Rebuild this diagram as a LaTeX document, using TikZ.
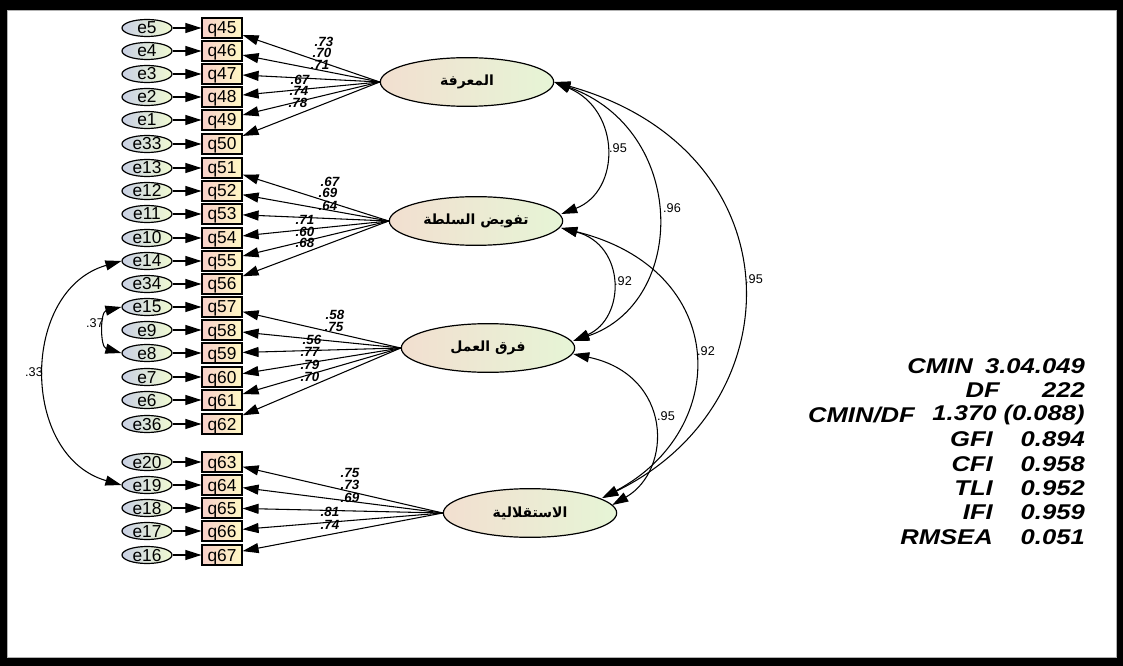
\documentclass[tikz,border=0pt]{standalone}
\usepackage{graphicx}
\usepackage{fontspec}
\setmainfont{Liberation Sans}
\newfontfamily\arabicfont[Script=Arabic]{DejaVu Sans}
\TeXXeTstate=1
\usetikzlibrary{shapes.geometric,arrows.meta,calc}
\definecolor{latL}{HTML}{F2DFD0}
\definecolor{latR}{HTML}{E6F5D6}
\definecolor{errL}{HTML}{C9D0E4}
\definecolor{errR}{HTML}{F0FAD2}
\definecolor{indL}{HTML}{F8D0CA}
\definecolor{indR}{HTML}{FFF8C4}
\begin{document}
\begin{tikzpicture}[x=0.75pt,y=-0.75pt,
  err/.style={ellipse, draw, line width=0.9pt, left color=errL, right color=errR,
    minimum width=37.5pt, minimum height=12.75pt, inner sep=0pt,
    font=\fontsize{13}{13}\selectfont, text height=9pt, text depth=0pt},
  ind/.style={rectangle, draw, line width=0.9pt, left color=indL, right color=indR,
    minimum width=30pt, minimum height=15pt, inner sep=0pt,
    font=\fontsize{13}{13}\selectfont, text height=9pt, text depth=0pt},
  lat/.style={ellipse, draw, line width=0.9pt, left color=latL, right color=latR,
    minimum width=130pt, minimum height=36.5pt, inner sep=0pt,
    font=\fontsize{10.5}{10.5}\selectfont\arabicfont\bfseries},
  arr/.style={line width=0.8pt, -{Triangle[length=12pt,width=7.5pt]}},
  cov/.style={line width=0.8pt, {Triangle[length=12pt,width=7.5pt]}-{Triangle[length=12pt,width=7.5pt]}},
  ld/.style={font=\fontsize{10}{10}\selectfont\bfseries\itshape, inner sep=0pt,
    text height=7.2pt, text depth=0pt},
  cl/.style={font=\fontsize{9.5}{9.5}\selectfont, inner sep=0pt},
  st/.style={font=\fontsize{16}{16}\selectfont\bfseries\itshape, inner sep=0pt, anchor=east}
]
\useasboundingbox (0,0) rectangle (1123,666);
\fill[black] (0,0) rectangle (1123,666);
\fill[white] (7,10) rectangle (1116,657);
\draw[gray!60, line width=0.6pt] (7,10) rectangle (1116,657);

% latent variables
\node[lat] (F1) at (467,82) {\beginR المعرفة\endR};
\node[lat] (F2) at (476,221) {\beginR تفويض السلطة\endR};
\node[lat] (F3) at (488,348) {\beginR فرق العمل\endR};
\node[lat] (F4) at (530,513) {\beginR الاستقلالية\endR};

% indicators and errors
\foreach \q/\e/\y/\f in {45/5/28/F1, 46/4/51/F1, 47/3/74/F1, 48/2/97/F1, 49/1/120/F1, 50/33/144/F1,
  51/13/168/F2, 52/12/191/F2, 53/11/214/F2, 54/10/238/F2, 55/14/261/F2, 56/34/284/F2,
  57/15/307/F3, 58/9/330/F3, 59/8/353/F3, 60/7/377/F3, 61/6/400/F3, 62/36/424/F3,
  63/20/462/F4, 64/19/485/F4, 65/18/508/F4, 66/17/531/F4, 67/16/555/F4}{
  \node[ind] (q\q) at (222,\y) {q\q};
  \node[err] (e\e) at (147,\y) {e\e};
  \draw[arr] (e\e) -- (q\q);
  \draw[arr] (\f.west) -- (q\q);
}

% loading labels
\foreach \n/\t/\x/\y in {45/.73/324/42, 46/.70/322/53, 47/.71/320/65, 48/.67/300/80, 49/.74/299/91, 50/.78/298/103,
  51/.67/330/182, 52/.69/328/193, 53/.64/328/206, 54/.71/305/220, 55/.60/305/232, 56/.68/305/243,
  57/.58/335/315, 58/.75/334/327, 59/.56/312/340, 60/.77/310/352, 61/.79/310/365, 62/.70/310/377,
  63/.75/350/473, 64/.73/350/485, 65/.69/350/498, 66/.81/330/512, 67/.74/330/525}{
  \node[ld] (l\n) at (\x,\y) {\t};
}

% anchor points for covariances between latent variables
\coordinate (F1a) at (F1.east);
\coordinate (F2a) at ($(F2.east)+(-2,-7)$);
\coordinate (F2b) at ($(F2.east)+(-2,7)$);
\coordinate (F3a) at ($(F3.east)+(-2,-7)$);
\coordinate (F3b) at ($(F3.east)+(-2,6)$);
\coordinate (F4a) at ($(F4.east)+(-5,-8)$);
\coordinate (F4b) at ($(F4.east)+(-15,-15)$);

\draw[cov] (F1a) .. controls (621,110) and (621,191) .. (F2a);
\draw[cov] (F1a) .. controls (688,130) and (688,302) .. (F3a);
\draw[cov] (F1a) .. controls (797,150) and (797,403) .. (F4b);
\draw[cov] (F2b) .. controls (626,245) and (626,318) .. (F3a);
\draw[cov] (F2b) .. controls (731,270) and (731,430) .. (F4b);
\draw[cov] (F3b) .. controls (673,375) and (673,470) .. (F4a);

\node[cl] (c12) at (618,148) {.95};
\node[cl] (c13) at (672,208) {.96};
\node[cl] (c14) at (754,279) {.95};
\node[cl] (c23) at (623,281) {.92};
\node[cl] (c24) at (706,351) {.92};
\node[cl] (c34) at (666,416) {.95};

% error covariances
\draw[cov] (e14.west) .. controls (20,290) and (20,456) .. (e19.west);
\draw[cov] (e15.west) .. controls (100,312) and (100,347) .. (e8.west);
\node[cl] (c1419) at (34,372) {.33};
\node[cl] (c158) at (95,323) {.37};

% fit statistics
\node[st] (s1) at (973,366) {\scalebox{1.2}[1]{CMIN}};
\node[st] (v1) at (1085,366) {\scalebox{1.2}[1]{3.04.049}};
\node[st] (s2) at (1000,390) {\scalebox{1.2}[1]{DF}};
\node[st] (v2) at (1085,390) {\scalebox{1.2}[1]{222}};
\node[st] (s3) at (915,415) {\scalebox{1.2}[1]{CMIN/DF}};
\node[st] (v3) at (1085,415) {\scalebox{1.2}[1]{1.370 (0.088)}};
\node[st] (s4) at (993,439) {\scalebox{1.2}[1]{GFI}};
\node[st] (v4) at (1085,439) {\scalebox{1.2}[1]{0.894}};
\node[st] (s5) at (993,464) {\scalebox{1.2}[1]{CFI}};
\node[st] (v5) at (1085,464) {\scalebox{1.2}[1]{0.958}};
\node[st] (s6) at (993,488) {\scalebox{1.2}[1]{TLI}};
\node[st] (v6) at (1085,488) {\scalebox{1.2}[1]{0.952}};
\node[st] (s7) at (993,512) {\scalebox{1.2}[1]{IFI}};
\node[st] (v7) at (1085,512) {\scalebox{1.2}[1]{0.959}};
\node[st] (s8) at (993,537) {\scalebox{1.2}[1]{RMSEA}};
\node[st] (v8) at (1085,537) {\scalebox{1.2}[1]{0.051}};
\end{tikzpicture}
\end{document}
